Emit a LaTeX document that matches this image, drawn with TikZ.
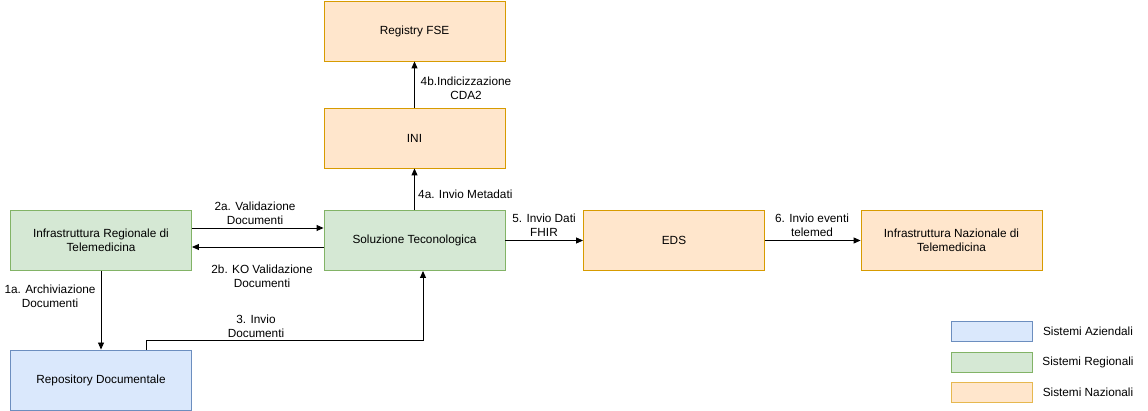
\documentclass[tikz,border=0pt]{standalone}
\usepackage{fontspec}
\setmainfont{Liberation Sans}
\usetikzlibrary{arrows.meta}
\definecolor{ofill}{HTML}{FFE6CC}\definecolor{odraw}{HTML}{D79B00}
\definecolor{gfill}{HTML}{D5E8D4}\definecolor{gdraw}{HTML}{82B366}
\definecolor{bfill}{HTML}{DAE8FC}\definecolor{bdraw}{HTML}{6C8EBF}
\definecolor{ldraw}{HTML}{E6B84F}
\begin{document}
\begin{tikzpicture}[x=1pt,y=-1pt,
  every node/.style={font=\fontsize{11.8}{13.8}\selectfont, align=center, inner sep=0pt},
  sysbox/.style={draw, line width=0.9pt, minimum width=181pt, minimum height=60pt},
  naz/.style={sysbox, fill=ofill, draw=odraw},
  reg/.style={sysbox, fill=gfill, draw=gdraw},
  azi/.style={sysbox, fill=bfill, draw=bdraw},
  legbox/.style={draw, line width=0.9pt, minimum width=81pt, minimum height=20pt},
  conn/.style={draw, line width=0.9pt, -{Triangle[length=7pt,width=6pt]}},
  lbl/.style={fill=white, inner sep=1pt}]
\useasboundingbox (0,0) rectangle (1148,411);
\fill[white] (0,0) rectangle (1148,411);
\node[naz] (reg) at (414.5,31) {Registry FSE};
\node[naz] (ini) at (414.5,138) {INI};
\node[reg] (irt) at (101,240.5) {Infrastruttura Regionale di\\Telemedicina};
\node[reg] (sol) at (414.5,240.5) {Soluzione Teconologica};
\node[naz] (eds) at (674,240.5) {EDS};
\node[naz] (int) at (951.5,240.5) {Infrastruttura Nazionale di\\Telemedicina};
\node[azi] (rep) at (101,380) {Repository Documentale};

\node[legbox, fill=bfill, draw=bdraw] (l1) at (991.5,331) {};
\node[legbox, fill=gfill, draw=gdraw] (l2) at (991.5,362) {};
\node[legbox, fill=ofill, draw=ldraw] (l3) at (991.5,392) {};
\node (t1) at (1088,331) {Sistemi Aziendali};
\node (t2) at (1088,362) {Sistemi Regionali};
\node (t3) at (1088,392) {Sistemi Nazionali};

\draw[conn] (irt.east |- 0,228) -- (sol.west |- 0,228);
\draw[conn] (sol.west |- 0,247) -- (irt.east |- 0,247);
\draw[conn] (irt.south) -- (rep.north);
\coordinate (c3a) at (146,340);
\coordinate (c3b) at (423,340);
\draw[conn] (rep.north -| c3a) -- (c3a) -- (c3b) -- (sol.south -| c3b);
\draw[conn] (sol.north) -- (ini.south);
\draw[conn] (ini.north) -- (reg.south);
\draw[conn] (sol.east) -- (eds.west);
\draw[conn] (eds.east) -- (int.west);

\node (l2a) at (255,213) {2a. Validazione\\Documenti};
\node (l2b) at (262,276) {2b. KO Validazione\\Documenti};
\node (l1a) at (50,296) {1a. Archiviazione\\Documenti};
\node (l3t) at (256,326) {3. Invio\\Documenti};
\node[anchor=west] (l4a) at (418,194) {4a. Invio Metadati};
\node (l4b) at (466,88) {4b.Indicizzazione\\CDA2};
\node[lbl] (l5) at (544,225) {5. Invio Dati\\FHIR};
\node[lbl] (l6) at (812,225) {6. Invio eventi\\telemed};
\end{tikzpicture}
\end{document}
